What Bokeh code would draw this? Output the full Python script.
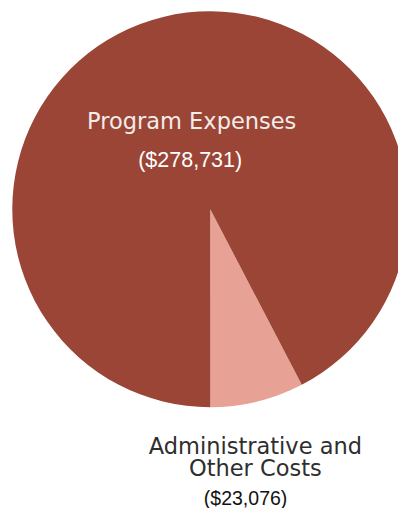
import math
from bokeh.plotting import figure
from bokeh.models import Range1d, ColumnDataSource
from bokeh.core.properties import value
from bokeh.embed import file_html
from bokeh.resources import INLINE

# ---- data ----
categories = ["Administrative and Other Costs", "Program Expenses"]
amounts = [23076, 278731]
colors = ["#E8A295", "#9A4536"]

# plot is 398x508 px; data space uses the reference's 406x516 pixel grid
W, H = 398, 508
RW, RH = 406, 516
p = figure(width=W, height=H, output_backend="svg", toolbar_location=None,
           x_range=Range1d(0, RW), y_range=Range1d(0, RH),
           x_axis_location=None, y_axis_location=None, min_border=0)
p.grid.visible = False
p.outline_line_color = None
p.background_fill_color = "white"
p.border_fill_color = "white"

cx, cy, r = 214, 304, 202
total = sum(amounts)
acc = -math.pi / 2
starts, ends = [], []
for a in amounts:
    starts.append(acc)
    acc += 2 * math.pi * a / total
    ends.append(acc)

src = ColumnDataSource(dict(start=starts, end=ends, color=colors))
p.wedge(x=cx, y=cy, radius=r, start_angle="start", end_angle="end",
        fill_color="color", line_color=None, source=src)

amount_labels = ["(${:,})".format(a) for a in amounts]

# Program Expenses labels (inside slice)
p.text(x=[195], y=[394], text=[categories[1]], text_align="center",
       text_baseline="alphabetic", text_font=value("DejaVu Sans"),
       text_font_size="22.5px", text_color="#F4ECE8")
p.text(x=[193.5], y=[354], text=[amount_labels[1]], text_align="center",
       text_baseline="alphabetic", text_font=value("Liberation Sans"),
       text_font_size="21.5px", text_color="#FFFFFF")

# Administrative labels (below pie)
admin_lines = ["Administrative and", "Other Costs"]
p.text(x=[260, 260], y=[63, 41], text=admin_lines, text_align="center",
       text_baseline="alphabetic", text_font=value("DejaVu Sans"),
       text_font_size="22.5px", text_color="#2E2E2E")
p.text(x=[250], y=[11], text=[amount_labels[0]], text_align="center",
       text_baseline="alphabetic", text_font=value("Liberation Sans"),
       text_font_size="19.5px", text_color="#111111")

open("out.html", "w").write(file_html(p, INLINE))
